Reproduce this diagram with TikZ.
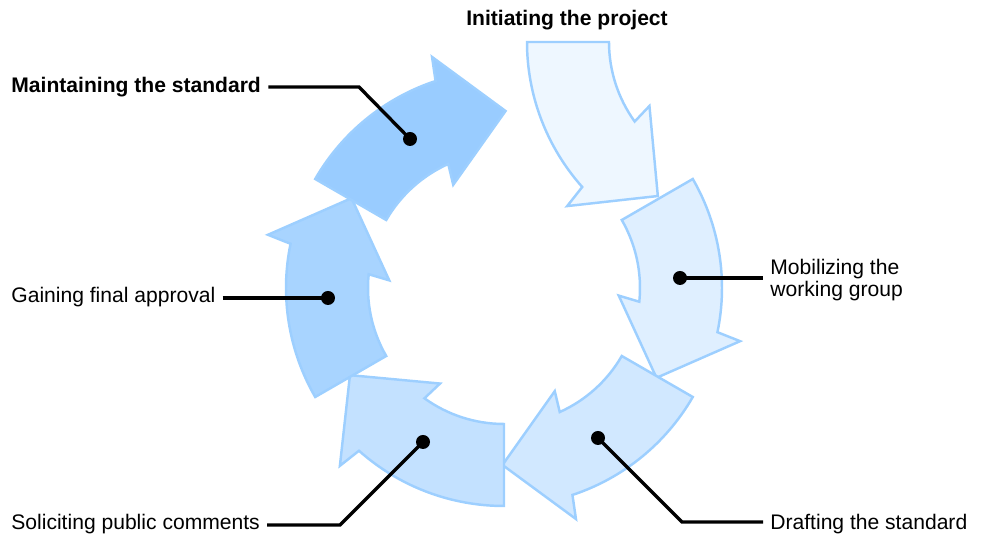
\documentclass[tikz,border=0pt]{standalone}
\usepackage{fontspec}
\setmainfont{Liberation Sans}
\usepackage{xcolor}

\definecolor{stepA}{HTML}{EEF7FF}
\definecolor{stepB}{HTML}{DFEFFF}
\definecolor{stepC}{HTML}{D1E8FF}
\definecolor{stepD}{HTML}{C3E1FF}
\definecolor{stepE}{HTML}{A8D4FF}
\definecolor{stepF}{HTML}{99CCFF}
\definecolor{arrowline}{HTML}{9DCFFF}

\newcommand{\lblfont}{\fontsize{12}{12.7}\selectfont}

\tikzset{
  cyclearrow/.style={draw=arrowline, line width=1.4pt, line join=miter},
  lbl/.style={font=\lblfont, inner xsep=4pt, inner ysep=0pt},
  lblbold/.style={lbl, font=\lblfont\bfseries},
  leader/.style={line width=1.9pt},
}

\begin{document}
\begin{tikzpicture}[x=0.02cm, y=0.02cm]
  \useasboundingbox (0,0) rectangle (985,536);

  % Draw the six curved arrows of the cycle
  \foreach \cx/\cy/\a/\s/\col in {745/494/180/1/stepA, 504/248/30/-1/stepB,
      504/248/330/-1/stepC, 504/248/270/-1/stepD, 504/248/210/-1/stepE,
      504/248/150/-1/stepF}{
    \pgfmathsetmacro{\aout}{\a+(\s)*41.7}
    \pgfmathsetmacro{\aback}{\a+(\s)*35.8}
    \begin{scope}[shift={(\cx,\cy)}]
      \draw[cyclearrow, fill=\col] (\a:218)
        arc[start angle=\a, end angle=\aout, radius=218]
        -- ({\a+(\s)*42.7}:242) -- ({\a+(\s)*60.5}:177)
        -- ({\a+(\s)*33.8}:115) -- (\aback:136)
        arc[start angle=\aback, end angle=\a, radius=136] -- cycle;
    \end{scope}
  }

  % Points on the arrows
  \coordinate (dotB) at (680,258);
  \coordinate (dotC) at (598,98);
  \coordinate (dotD) at (423,94);
  \coordinate (dotE) at (328,238);
  \coordinate (dotF) at (410,397);
  \coordinate (bendC) at (682,14);
  \coordinate (bendD) at (340,11);
  \coordinate (bendF) at (359,449);

  % Labels
  \node[lblbold, anchor=base] (init) at (567,510) {Initiating the project};
  \node[lbl, anchor=base west, align=left] (mob) at (763,239) {Mobilizing the\\working group};
  \node[lbl, anchor=base west] (draft) at (763,6) {Drafting the standard};
  \node[lbl, anchor=base west] (solic) at (4,6) {Soliciting public comments};
  \node[lbl, anchor=base west] (gain) at (4,233) {Gaining final approval};
  \node[lblbold, anchor=base west] (maint) at (4,443) {Maintaining the standard};

  % Leader lines
  \draw[leader] (dotB) -- (dotB -| mob.west);
  \draw[leader] (dotC) -- (bendC) -- (bendC -| draft.west);
  \draw[leader] (solic.east |- bendD) -- (bendD) -- (dotD);
  \draw[leader] (gain.east |- dotE) -- (dotE);
  \draw[leader] (maint.east |- bendF) -- (bendF) -- (dotF);
  \foreach \d in {dotB, dotC, dotD, dotE, dotF}
    \fill (\d) circle (7);
\end{tikzpicture}
\end{document}
